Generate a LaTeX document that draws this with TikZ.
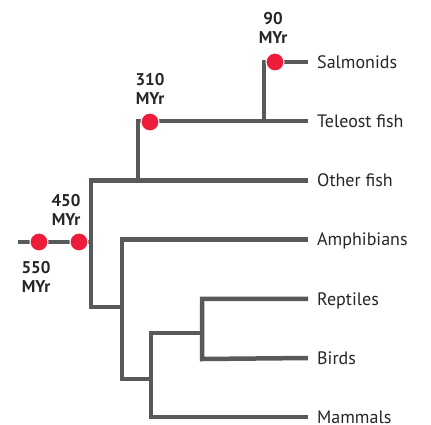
\documentclass[tikz,border=0pt]{standalone}
\usepackage{fontspec}
\setmainfont{PT Sans}
\usepackage{xcolor}
\definecolor{treegray}{RGB}{88,89,91}
\definecolor{dotred}{RGB}{237,28,59}
\usepackage{tikz}
\tikzset{
  branch/.style={draw=treegray,line width=4.5pt,line join=miter},
  leaf/.style={anchor=west,inner xsep=9pt,inner ysep=0pt,text height=12.6pt,text depth=0pt,font=\fontsize{18}{20}\selectfont,text=black!85},
  age/.style={align=center,font=\fontsize{17}{19}\selectfont\bfseries,text=black!85},
  split/.style={circle,fill=dotred,draw=white,line width=1pt,minimum size=18pt,inner sep=0pt}
}

\begin{document}
\begin{tikzpicture}[x=1pt,y=-1pt]
\useasboundingbox (0,0) rectangle (431,424);
% ---- LISCIE ----
\foreach \n/\t [count=\i from 0] in {salm/Salmonids,tele/Teleost fish,ofish/Other fish,amph/Amphibians,rept/Reptiles,bird/Birds,mamm/Mammals}{
  \node[leaf] (\n) at (308,62+59.2*\i) {\t};
}
% ---- WEZLY ----
\coordinate (root) at (18,242);
\coordinate (vert) at (91,242);
\coordinate (fish) at (138,181);
\coordinate (salmo) at (264,122);
\coordinate (tetra) at (122,307);
\coordinate (amn) at (151,379);
\coordinate (sauro) at (202,333);
% ---- GALEZIE ----
\draw[branch] (root) -- (vert);
\draw[branch] (ofish.west) -| (91,307) -- (tetra);
% ryby
\draw[branch] (fish) |- (tele.west);
\draw[branch] (salmo) |- (salm.west);
% czworonogi
\draw[branch] (amph.west) -| (122,379) -- (amn);
\draw[branch] (mamm.west) -| (151,333) -- (sauro);
\draw[branch] (rept.west) -| (202,359) -- (bird.west);
% ---- DATOWANIA ----
\node[split] (d550) at (39,242) {};
\node[split] (d450) at (79,242) {};
\node[split] (d310) at (150,122) {};
\node[split] (d90) at (275,62) {};
\node[age] (t550) at (36,277) {550\\MYr};
\node[age] (t450) at (66,210) {450\\MYr};
\node[age] (t310) at (150,89) {310\\MYr};
\node[age] (t90) at (273,28) {90\\MYr};
\end{tikzpicture}
\end{document}
